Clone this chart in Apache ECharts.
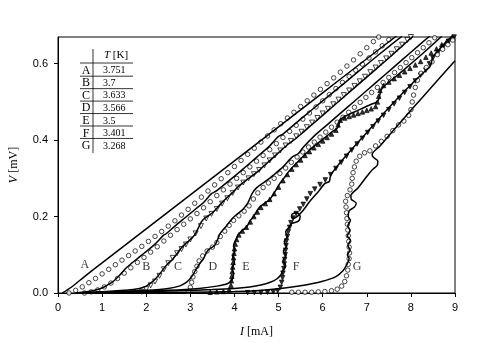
<!DOCTYPE html>
<html>
<head>
<meta charset="utf-8">
<script src="https://cdn.jsdelivr.net/npm/echarts@6/dist/echarts.min.js"></script>
<style>html,body{margin:0;padding:0;background:#fff;}#c{width:477px;height:343px;}</style>
</head>
<body>
<div id="c"></div>
<script>
const curveNames = ['A','B','C','D','E','F','G'];
const temperatures = ['3.751','3.7','3.633','3.566','3.5','3.401','3.268'];
const xTickValues = [0,1,2,3,4,5,6,7,8,9];
const yTickValues = [0,0.2,0.4,0.6];

// simulated curves (solid lines), [I mA, V mV]
const lineA = [[0.1,0],[0.3,0.015],[0.6,0.043],[1,0.079],[2,0.168],[3,0.257],[4,0.346],[5,0.435],[6,0.524],[7,0.613],[7.7,0.675]];
const lineB = [[0.4,0],[0.7,0.004],[0.9,0.009],[1.07,0.017],[1.18,0.025],[1.29,0.034],[1.44,0.052],[1.55,0.066],[1.67,0.078],[1.8,0.09],[1.95,0.104],[2.1,0.118],[2.2,0.128],[2.3,0.14],[2.38,0.15],[2.45,0.155],[2.65,0.175],[2.88,0.197],[3.1,0.218],[3.3,0.237],[3.4,0.25],[3.48,0.26],[3.6,0.268],[3.9,0.296],[4.2,0.325],[4.5,0.355],[4.8,0.385],[4.9,0.398],[5.0,0.41],[5.1,0.416],[5.5,0.455],[6.0,0.503],[6.5,0.55],[7.0,0.598],[7.5,0.645],[7.8,0.672]];
const lineC = [[0.4,0],[1.0,0.003],[1.5,0.007],[1.82,0.011],[2.0,0.018],[2.1,0.026],[2.2,0.036],[2.32,0.052],[2.43,0.069],[2.5,0.078],[2.58,0.086],[2.68,0.1],[2.78,0.116],[2.88,0.128],[3.0,0.14],[3.1,0.152],[3.18,0.17],[3.25,0.186],[3.33,0.196],[3.5,0.21],[3.65,0.228],[3.78,0.244],[3.95,0.262],[4.1,0.28],[4.3,0.298],[4.5,0.315],[4.69,0.335],[4.99,0.366],[5.2,0.388],[5.4,0.405],[5.6,0.425],[6.0,0.465],[6.5,0.515],[7.0,0.565],[7.5,0.615],[8.05,0.672]];
const lineD = [[0.5,0],[1.5,0.004],[2.0,0.007],[2.5,0.012],[2.75,0.018],[2.9,0.027],[3.0,0.038],[3.08,0.052],[3.15,0.066],[3.22,0.078],[3.29,0.088],[3.34,0.1],[3.4,0.112],[3.47,0.118],[3.55,0.124],[3.62,0.14],[3.67,0.155],[3.8,0.173],[3.98,0.198],[4.1,0.21],[4.2,0.22],[4.3,0.235],[4.4,0.26],[4.5,0.275],[4.7,0.292],[4.9,0.31],[5.1,0.33],[5.3,0.355],[5.45,0.365],[5.55,0.38],[5.8,0.41],[6.1,0.44],[6.4,0.47],[6.7,0.5],[7.0,0.53],[7.4,0.57],[7.8,0.61],[8.2,0.65],[8.45,0.675]];
const lineE = [[0.5,0],[1.5,0.003],[2.5,0.007],[3.2,0.012],[3.6,0.018],[3.85,0.025],[3.95,0.035],[3.98,0.05],[3.95,0.065],[4.0,0.08],[3.96,0.095],[4.01,0.11],[3.98,0.125],[4.04,0.14],[4.08,0.152],[4.18,0.164],[4.28,0.174],[4.36,0.19],[4.43,0.2],[4.5,0.213],[4.58,0.226],[4.7,0.236],[4.8,0.245],[4.9,0.262],[5.03,0.287],[5.15,0.305],[5.26,0.322],[5.45,0.345],[5.71,0.375],[6.0,0.402],[6.25,0.425],[6.32,0.43],[6.36,0.438],[6.4,0.452],[6.47,0.46],[6.8,0.478],[7.1,0.494],[7.23,0.5],[7.28,0.51],[7.32,0.53],[7.38,0.54],[7.8,0.58],[8.3,0.63],[8.7,0.672]];
const lineF = [[0.4,0],[1.5,0.002],[2.5,0.005],[3.5,0.009],[4.0,0.012],[4.35,0.016],[4.6,0.021],[4.81,0.028],[4.95,0.036],[5.05,0.047],[5.1,0.06],[5.16,0.072],[5.1,0.085],[5.17,0.098],[5.11,0.11],[5.18,0.122],[5.13,0.135],[5.2,0.148],[5.16,0.16],[5.24,0.172],[5.3,0.182],[5.45,0.188],[5.49,0.2],[5.42,0.21],[5.3,0.205],[5.32,0.195],[5.42,0.2],[5.55,0.215],[5.71,0.24],[5.9,0.265],[6.05,0.287],[6.15,0.292],[6.17,0.303],[6.2,0.312],[6.5,0.355],[7.0,0.42],[7.5,0.485],[8.0,0.545],[8.36,0.585],[8.42,0.59],[8.46,0.6],[8.5,0.618],[8.7,0.645],[8.95,0.675]];
const lineG = [[0.7,0],[2,0.001],[3,0.002],[4,0.004],[4.5,0.006],[5.0,0.011],[5.5,0.019],[6.0,0.031],[6.3,0.043],[6.46,0.058],[6.55,0.075],[6.6,0.09],[6.56,0.1],[6.62,0.112],[6.57,0.125],[6.63,0.138],[6.56,0.15],[6.62,0.163],[6.57,0.176],[6.63,0.19],[6.58,0.2],[6.6,0.215],[6.72,0.225],[6.76,0.235],[6.65,0.245],[6.64,0.255],[6.8,0.275],[7.0,0.305],[7.12,0.322],[7.24,0.335],[7.25,0.345],[7.15,0.355],[7.12,0.362],[7.3,0.385],[7.6,0.425],[8.0,0.478],[8.5,0.543],[9.0,0.608]];

// measured data (markers)
const dataA = [[0.25,0],[0.4,0.007],[0.55,0.016],[0.7,0.027],[0.85,0.038],[1.0,0.05],[1.15,0.062],[1.3,0.074],[1.45,0.086],[1.6,0.098],[1.75,0.11],[1.9,0.122],[2.05,0.135],[2.2,0.148],[2.35,0.161],[2.5,0.175],[2.65,0.189],[2.8,0.204],[2.95,0.219],[3.1,0.235],[3.25,0.251],[3.4,0.267],[3.55,0.283],[3.7,0.299],[3.85,0.315],[4.0,0.331],[4.15,0.347],[4.3,0.363],[4.45,0.379],[4.6,0.395],[4.75,0.411],[4.9,0.427],[5.05,0.443],[5.2,0.458],[5.35,0.473],[5.5,0.488],[5.65,0.503],[5.8,0.518],[5.95,0.533],[6.1,0.548],[6.25,0.563],[6.4,0.578],[6.55,0.594],[6.7,0.61],[6.85,0.626],[7.0,0.642],[7.15,0.658],[7.27,0.67]];
const dataB = [[0.6,0.0],[0.75,0.003],[0.9,0.008],[1.05,0.016],[1.2,0.026],[1.35,0.038],[1.5,0.052],[1.65,0.066],[1.8,0.08],[1.95,0.093],[2.1,0.107],[2.25,0.121],[2.4,0.136],[2.55,0.151],[2.7,0.166],[2.85,0.18],[3.0,0.194],[3.15,0.208],[3.3,0.223],[3.45,0.239],[3.6,0.255],[3.75,0.27],[3.9,0.285],[4.05,0.3],[4.2,0.315],[4.35,0.33],[4.5,0.345],[4.65,0.36],[4.8,0.375],[4.95,0.391],[5.1,0.407],[5.25,0.423],[5.4,0.439],[5.55,0.455],[5.7,0.471],[5.85,0.487],[6.0,0.503],[6.15,0.519],[6.3,0.535],[6.45,0.551],[6.6,0.567],[6.75,0.583],[6.9,0.599],[7.05,0.615],[7.2,0.631],[7.35,0.647],[7.5,0.663],[7.6,0.674]];
const dataC = [[1.9,0.003],[2.0,0.01],[2.1,0.02],[2.2,0.03],[2.3,0.045],[2.4,0.062],[2.5,0.078],[2.6,0.092],[2.7,0.104],[2.8,0.115],[2.9,0.127],[3.0,0.14],[3.12,0.156],[3.24,0.175],[3.36,0.195],[3.48,0.207],[3.6,0.22],[3.72,0.234],[3.84,0.248],[3.96,0.262],[4.08,0.276],[4.2,0.289],[4.32,0.3],[4.44,0.311],[4.56,0.322],[4.68,0.334],[4.8,0.347],[4.92,0.36],[5.04,0.373],[5.16,0.386],[5.28,0.398],[5.4,0.41],[5.52,0.422],[5.64,0.434],[5.76,0.446],[5.88,0.458],[6.0,0.47],[6.12,0.482],[6.24,0.494],[6.36,0.506],[6.48,0.518],[6.6,0.53],[6.72,0.542],[6.84,0.554],[6.96,0.566],[7.08,0.578],[7.2,0.59],[7.32,0.602],[7.44,0.614],[7.56,0.626],[7.68,0.638],[7.8,0.65],[7.92,0.662],[8.0,0.67]];
const dataD = [[2.95,0.004],[3.0,0.015],[3.03,0.028],[3.06,0.042],[3.1,0.056],[3.15,0.07],[3.2,0.084],[3.28,0.097],[3.38,0.11],[3.5,0.12],[3.6,0.132],[3.68,0.148],[3.78,0.162],[3.88,0.177],[3.98,0.19],[4.1,0.202],[4.22,0.214],[4.33,0.228],[4.43,0.246],[4.53,0.262],[4.65,0.276],[4.77,0.288],[4.9,0.3],[5.03,0.313],[5.16,0.327],[5.29,0.342],[5.42,0.356],[5.55,0.369],[5.68,0.382],[5.81,0.395],[5.94,0.408],[6.07,0.421],[6.2,0.434],[6.33,0.447],[6.46,0.46],[6.59,0.473],[6.72,0.486],[6.85,0.499],[6.98,0.512],[7.11,0.525],[7.24,0.538],[7.37,0.551],[7.5,0.564],[7.63,0.577],[7.76,0.59],[7.89,0.603],[8.02,0.616],[8.15,0.629],[8.28,0.642],[8.41,0.655],[8.54,0.668]];
const dataE = [[3.45,0.002],[3.6,0.003],[3.75,0.004],[3.88,0.008],[3.92,0.02],[3.93,0.032],[3.94,0.044],[3.95,0.056],[3.96,0.068],[3.97,0.08],[3.98,0.092],[3.99,0.104],[4.0,0.116],[4.02,0.128],[4.05,0.14],[4.1,0.152],[4.18,0.162],[4.27,0.172],[4.36,0.186],[4.44,0.2],[4.52,0.212],[4.6,0.224],[4.7,0.234],[4.8,0.245],[4.9,0.26],[5.0,0.277],[5.1,0.294],[5.2,0.31],[5.3,0.324],[5.4,0.336],[5.5,0.348],[5.6,0.36],[5.7,0.37],[5.8,0.38],[5.9,0.389],[6.0,0.398],[6.1,0.407],[6.2,0.416],[6.3,0.426],[6.35,0.44],[6.4,0.452],[6.5,0.458],[6.6,0.462],[6.7,0.466],[6.8,0.47],[6.9,0.474],[7.0,0.478],[7.1,0.482],[7.2,0.488],[7.24,0.5],[7.27,0.515],[7.3,0.53],[7.38,0.543],[7.5,0.552],[7.62,0.561],[7.74,0.57],[7.86,0.579],[7.98,0.588],[8.1,0.597],[8.22,0.606],[8.34,0.617],[8.46,0.628],[8.58,0.639],[8.7,0.65],[8.82,0.66],[8.94,0.67]];
const dataF = [[4.3,0.001],[4.45,0.001],[4.6,0.001],[4.75,0.002],[4.88,0.003],[4.98,0.006],[5.04,0.015],[5.07,0.028],[5.09,0.04],[5.1,0.052],[5.12,0.064],[5.13,0.076],[5.14,0.088],[5.15,0.1],[5.16,0.112],[5.17,0.124],[5.18,0.136],[5.2,0.148],[5.22,0.16],[5.25,0.172],[5.28,0.184],[5.33,0.196],[5.4,0.208],[5.48,0.22],[5.56,0.232],[5.64,0.246],[5.72,0.26],[5.82,0.272],[5.94,0.284],[6.06,0.296],[6.18,0.31],[6.3,0.326],[6.42,0.342],[6.54,0.358],[6.66,0.374],[6.78,0.39],[6.9,0.405],[7.02,0.42],[7.14,0.435],[7.26,0.45],[7.38,0.465],[7.5,0.48],[7.62,0.495],[7.74,0.51],[7.86,0.525],[7.98,0.54],[8.1,0.555],[8.22,0.57],[8.34,0.583],[8.42,0.6],[8.5,0.615],[8.62,0.63],[8.74,0.645],[8.86,0.658],[8.98,0.67]];
const dataG = [[5.3,0.002],[5.45,0.002],[5.6,0.002],[5.75,0.002],[5.9,0.003],[6.05,0.004],[6.2,0.006],[6.33,0.01],[6.43,0.018],[6.5,0.03],[6.54,0.045],[6.57,0.06],[6.58,0.075],[6.6,0.09],[6.61,0.105],[6.6,0.12],[6.59,0.135],[6.58,0.15],[6.57,0.165],[6.56,0.18],[6.55,0.195],[6.54,0.21],[6.53,0.225],[6.52,0.24],[6.56,0.255],[6.62,0.27],[6.66,0.285],[6.67,0.3],[6.69,0.315],[6.72,0.33],[6.76,0.345],[6.84,0.358],[6.95,0.367],[7.07,0.372],[7.2,0.385],[7.33,0.397],[7.46,0.41],[7.59,0.425],[7.72,0.44],[7.84,0.45],[7.95,0.465],[8.0,0.48],[8.03,0.5],[8.06,0.518],[8.1,0.538],[8.15,0.557],[8.23,0.575],[8.35,0.59],[8.48,0.605],[8.6,0.624],[8.72,0.638],[8.84,0.65],[8.95,0.662]];

// curve letter label anchors [I, V]
const curveLabelAnchors = [[0.61,0.073],[2.0,0.068],[2.72,0.068],[3.51,0.068],[4.26,0.068],[5.4,0.068],[6.78,0.068]];

const lines = [lineA,lineB,lineC,lineD,lineE,lineF,lineG];
const datas = [dataA,dataB,dataC,dataD,dataE,dataF,dataG];
const markerStyles = [
  {symbol:'circle', rot:0, fill:'#fff', size:4.5},
  {symbol:'circle', rot:0, fill:'#fff', size:4.5},
  {symbol:'triangle', rot:180, fill:'#fff', size:5},
  {symbol:'circle', rot:0, fill:'#fff', size:4.5},
  {symbol:'triangle', rot:0, fill:'#000', size:4.5},
  {symbol:'triangle', rot:180, fill:'#000', size:4.5},
  {symbol:'circle', rot:0, fill:'#fff', size:4.5}
];

const SERIF = "'Liberation Serif','Times New Roman',serif";
const SANS = "'Liberation Sans',Arial,sans-serif";

const series = [];
datas.forEach((d,i)=>{
  const m = markerStyles[i];
  series.push({
    type:'scatter', name:'data'+curveNames[i], data:d, symbol:m.symbol, symbolRotate:m.rot,
    symbolSize:m.size, itemStyle:{color:m.fill, borderColor:'#000', borderWidth:0.9}, z:3, silent:true
  });
});
lines.forEach((d,i)=>{
  series.push({
    type:'line', name:'sim'+curveNames[i], data:d, showSymbol:false, smooth:0.3,
    lineStyle:{color:'#000', width:1.5}, z:4, silent:true
  });
});
series.push({
  type:'scatter', name:'labels', symbolSize:0, z:5, silent:true,
  data: curveLabelAnchors.map((p,i)=>[p[0],p[1],curveNames[i]]),
  label:{show:true, position:'inside', formatter:(p)=>p.data[2], color:'#000', fontFamily:SERIF, fontSize:12}
});

// legend table graphic
const g = [];
const tx0 = 80, tx1 = 133, vx = 93;
g.push({type:'line', shape:{x1:vx, y1:49, x2:vx, y2:153}, style:{stroke:'#000', lineWidth:0.8}});
g.push({type:'text', x:104, y:55, style:{text:'{i|T} [K]', fill:'#000', font:'11px '+SERIF, verticalAlign:'middle', rich:{i:{fontStyle:'italic', fontFamily:SERIF, fontSize:11}}}});
g.push({type:'line', shape:{x1:tx0, y1:63, x2:tx1, y2:63}, style:{stroke:'#000', lineWidth:0.8}});
curveNames.forEach((n,i)=>{
  const yc = 70.5 + i*12.6;
  g.push({type:'text', x:86, y:yc, style:{text:n, fill:'#000', font:'12px '+SERIF, align:'center', verticalAlign:'middle'}});
  g.push({type:'text', x:103, y:yc, style:{text:temperatures[i], fill:'#000', font:'10px '+SERIF, align:'left', verticalAlign:'middle'}});
  if (i < curveNames.length-1) {
    const yl = 76.2 + i*12.45;
    g.push({type:'line', shape:{x1:tx0, y1:yl, x2:tx1, y2:yl}, style:{stroke:'#000', lineWidth:0.8}});
  }
});

const chart = echarts.init(document.getElementById('c'), null, {renderer:'canvas'});
chart.setOption({
  animation:false,
  backgroundColor:'#fff',
  grid:{left:58, right:22, top:37, bottom:50, show:true, borderColor:'#000', borderWidth:1, backgroundColor:'transparent'},
  xAxis:{
    type:'value', min:0, max:9, interval:1,
    name:'{i|I} [mA]', nameLocation:'middle', nameGap:33,
    nameTextStyle:{color:'#000', fontFamily:SERIF, fontSize:12, rich:{i:{fontStyle:'italic', fontFamily:SERIF, fontSize:12, color:'#000'}}},
    axisLine:{show:true, lineStyle:{color:'#000', width:1}},
    axisTick:{show:true, inside:false, length:4, lineStyle:{color:'#000'}, customValues:xTickValues},
    axisLabel:{color:'#000', fontFamily:SANS, fontSize:11, margin:9, customValues:xTickValues, formatter:(v)=>String(v)},
    splitLine:{show:false}
  },
  yAxis:{
    type:'value', min:0, max:0.67, interval:0.2,
    name:'{i|V} [mV]', nameLocation:'middle', nameGap:38, nameRotate:90,
    nameTextStyle:{color:'#000', fontFamily:SERIF, fontSize:12, rich:{i:{fontStyle:'italic', fontFamily:SERIF, fontSize:12, color:'#000'}}},
    axisLine:{show:true, lineStyle:{color:'#000', width:1}},
    axisTick:{show:true, inside:false, length:4, lineStyle:{color:'#000'}, customValues:yTickValues},
    axisLabel:{color:'#000', fontFamily:SANS, fontSize:11, margin:10, customValues:yTickValues, formatter:(v)=>v.toFixed(1)},
    splitLine:{show:false}
  },
  graphic:g,
  series:series
});
</script>
</body>
</html>
